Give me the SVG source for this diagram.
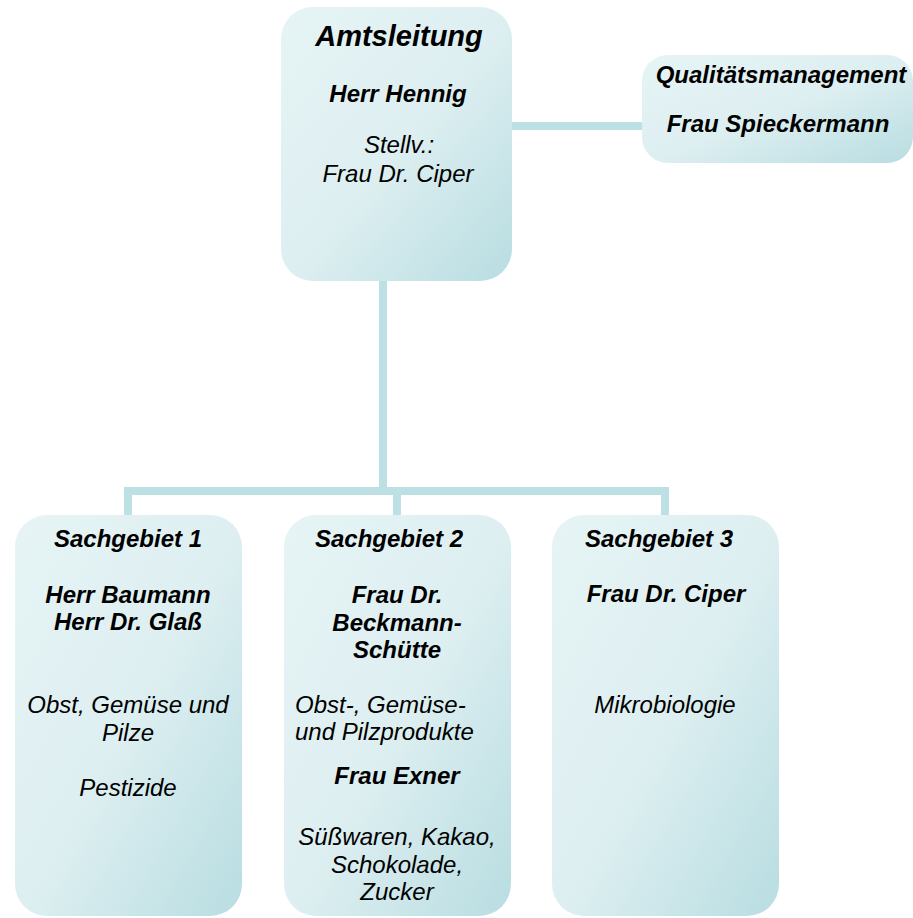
<svg xmlns="http://www.w3.org/2000/svg" width="913" height="918" viewBox="0 0 913 918">
<style>
.box{fill:url(#g);}
.con{stroke:#bde0e4;stroke-width:8;fill:none;stroke-linecap:butt;}
text{font-family:"Liberation Sans",Arial,sans-serif;font-size:24px;font-style:italic;fill:#000;}
.b{font-weight:bold;}
.c{text-anchor:middle;}
</style>
<defs>
<linearGradient id="g" x1="0" y1="0" x2="1" y2="1">
<stop offset="0" stop-color="#e6f4f5"/>
<stop offset="0.5" stop-color="#deeff1"/>
<stop offset="1" stop-color="#b8dde1"/>
</linearGradient>
</defs>
<g id="connectors">
<path class="con" d="M512 126 H642"/>
<path class="con" d="M383 281 V491"/>
<path class="con" d="M128 491 H665"/>
<path class="con" d="M128 487 V515"/>
<path class="con" d="M397 487 V515"/>
<path class="con" d="M665 487 V515"/>
</g>
<g id="amtsleitung">
<rect class="box" x="281" y="7" width="231" height="274" rx="32"/>
<text class="b c" x="399" y="46" style="font-size:29px">Amtsleitung</text>
<text class="b c" x="398" y="102">Herr Hennig</text>
<text class="c" x="399" y="153">Stellv.:</text>
<text class="c" x="398" y="182">Frau Dr. Ciper</text>
</g>
<g id="qm">
<rect class="box" x="642" y="55" width="271" height="108" rx="26"/>
<text class="b c" x="781" y="83">Qualitätsmanagement</text>
<text class="b c" x="778" y="132">Frau Spieckermann</text>
</g>
<g id="sg1">
<rect class="box" x="15" y="515" width="227" height="401" rx="32"/>
<text class="b c" x="128" y="547">Sachgebiet 1</text>
<text class="b c" x="128" y="603">Herr Baumann</text>
<text class="b c" x="128" y="630">Herr Dr. Glaß</text>
<text class="c" x="128" y="713">Obst, Gemüse und</text>
<text class="c" x="128" y="741">Pilze</text>
<text class="c" x="128" y="796">Pestizide</text>
</g>
<g id="sg2">
<rect class="box" x="284" y="515" width="227" height="401" rx="32"/>
<text class="b" x="315" y="547">Sachgebiet 2</text>
<text class="b c" x="397" y="603">Frau Dr.</text>
<text class="b c" x="397" y="631">Beckmann-</text>
<text class="b c" x="397" y="658">Schütte</text>
<text x="295" y="713">Obst-, Gemüse-</text>
<text x="295" y="740">und Pilzprodukte</text>
<text class="b c" x="397" y="784">Frau Exner</text>
<text class="c" x="397" y="845">Süßwaren, Kakao,</text>
<text class="c" x="397" y="873">Schokolade,</text>
<text class="c" x="397" y="900">Zucker</text>
</g>
<g id="sg3">
<rect class="box" x="552" y="515" width="227" height="401" rx="32"/>
<text class="b" x="585" y="547">Sachgebiet 3</text>
<text class="b c" x="666" y="602">Frau Dr. Ciper</text>
<text class="c" x="665" y="713">Mikrobiologie</text>
</g>
</svg>
